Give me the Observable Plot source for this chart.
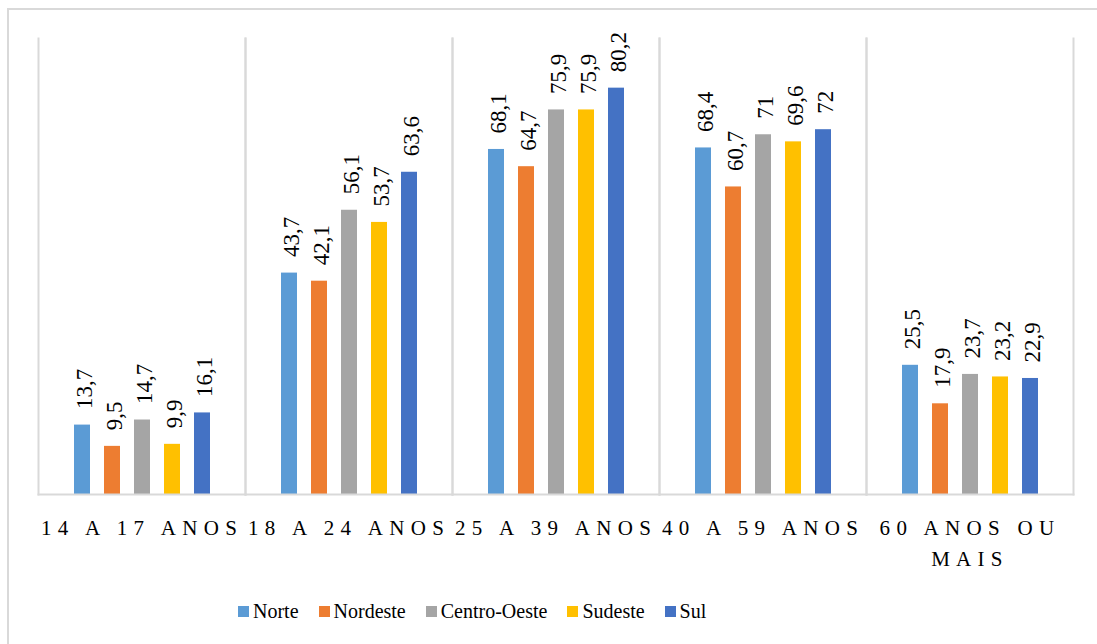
<!DOCTYPE html>
<html>
<head>
<meta charset="utf-8">
<script src="https://cdn.jsdelivr.net/npm/d3@7"></script>
<script src="https://cdn.jsdelivr.net/npm/@observablehq/plot@0.6"></script>
<style>
  html, body { margin: 0; padding: 0; background: #fff; overflow: hidden; }
  #page { position: relative; width: 1097px; height: 644px; font-family: 'Liberation Serif'; }
  #border {
    position: absolute; left: 7px; top: 8px; width: 1200px; height: 700px;
    border-left: 2px solid #d9d9d9; border-top: 2px solid #d9d9d9; box-sizing: border-box;
  }
  #chart { position: absolute; left: 0; top: 0; }
  #legend { position: absolute; left: 238px; top: 596px; height: 30px; display: flex; align-items: center; }
  #legend > div { margin: 0 !important; min-height: 0 !important; }
  #legend svg { margin-right: 4px !important; }
  g[aria-label="fx-axis tick label"] text { letter-spacing: 6.3px; }
</style>
</head>
<body>
<div id="page">
  <div id="border"></div>
  <div id="chart"></div>
  <div id="legend"></div>
</div>
<script>
// Faixas etárias (grupos) e regiões (séries)
const groups = ["14 A 17 ANOS", "18 A 24 ANOS", "25 A 39 ANOS", "40 A 59 ANOS", "60 ANOS OU MAIS"];
const groupLabels = ["14 A 17 ANOS", "18 A 24 ANOS", "25 A 39 ANOS", "40 A 59 ANOS", "60 ANOS OU\nMAIS"];
const regions = ["Norte", "Nordeste", "Centro-Oeste", "Sudeste", "Sul"];
const colors = ["#5B9BD5", "#ED7D31", "#A5A5A5", "#FFC000", "#4472C4"];

// Percentuais por região, na ordem das faixas etárias
const norte = [13.7, 43.7, 68.1, 68.4, 25.5];
const nordeste = [9.5, 42.1, 64.7, 60.7, 17.9];
const centroOeste = [14.7, 56.1, 75.9, 71, 23.7];
const sudeste = [9.9, 53.7, 75.9, 69.6, 23.2];
const sul = [16.1, 63.6, 80.2, 72, 22.9];

const series = [norte, nordeste, centroOeste, sudeste, sul];
const data = groups.flatMap((g, i) =>
  regions.map((r, j) => ({group: g, region: r, value: series[j][i]}))
);

const fmt = v => String(v).replace(".", ",");
const gridColor = "#d9d9d9";
const serif = "Liberation Serif";

const chart = Plot.plot({
  width: 1097,
  height: 580,
  marginLeft: 36,
  marginRight: 23,
  marginTop: 38,
  marginBottom: 86,
  style: "font-family: 'Liberation Serif'; color: black; background: transparent; overflow: visible;",
  fx: {domain: groups, padding: 0, label: null},
  x: {domain: regions, paddingInner: 0.47, paddingOuter: 1.16, axis: null},
  y: {domain: [0, 90], axis: null},
  color: {domain: regions, range: colors},
  marks: [
    Plot.frame({anchor: "left", stroke: gridColor, strokeWidth: 2}),
    Plot.frame({anchor: "right", stroke: gridColor, strokeWidth: 2}),
    Plot.barY(data, {fx: "group", x: "region", y: "value", fill: "region"}),
    Plot.frame({anchor: "bottom", stroke: gridColor, strokeWidth: 2}),
    Plot.text(data, {
      fx: "group", x: "region", y: "value",
      text: d => fmt(d.value),
      rotate: -90, textAnchor: "start", dy: -16, dx: 2,
      fontSize: 23, fontFamily: serif, fill: "black"
    }),
    Plot.axisFx({
      anchor: "bottom",
      tickSize: 0, tickPadding: 19, fontSize: 21, fontFamily: serif, lineHeight: 1.45,
      tickFormat: g => groupLabels[groups.indexOf(g)],
      label: null
    })
  ]
});
document.getElementById("chart").append(chart);

const legend = Plot.legend({
  color: {type: "ordinal", domain: regions, range: colors},
  swatchSize: 11,
  style: "font-family: 'Liberation Serif'; font-size: 20px; color: black;"
});
document.getElementById("legend").append(legend);
</script>
</body>
</html>
